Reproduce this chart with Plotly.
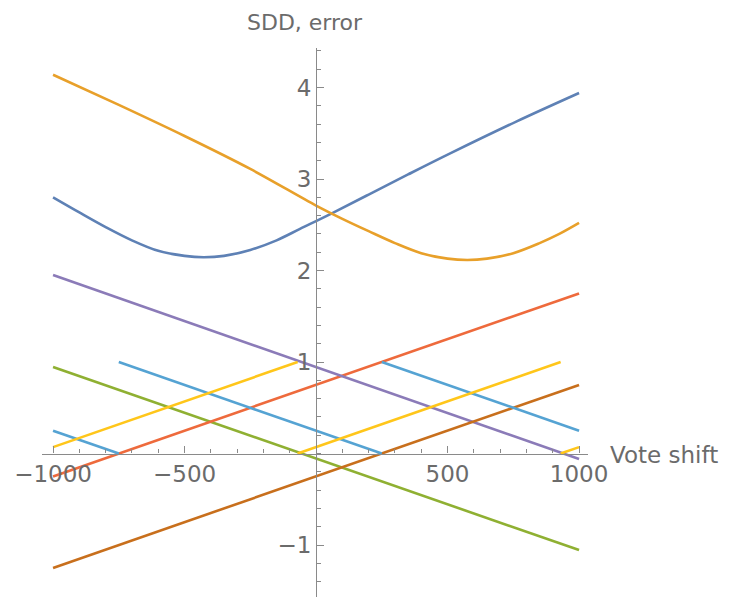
import plotly.graph_objects as go

# values
blue_x = [-1000, -900, -800, -700, -600, -500, -428, -350, -250, -150, -61, 60, 200, 350, 510, 763, 1000]
blue_y = [2.80, 2.635, 2.475, 2.33, 2.215, 2.16, 2.145, 2.16, 2.225, 2.33, 2.455, 2.625, 2.83, 3.05, 3.28, 3.63, 3.94]

orange_x = [-1000, -750, -500, -250, 0, 100, 200, 300, 400, 500, 575, 650, 750, 850, 925, 1000]
orange_y = [4.14, 3.81, 3.47, 3.11, 2.71, 2.565, 2.43, 2.30, 2.19, 2.13, 2.115, 2.13, 2.19, 2.30, 2.40, 2.52]

green_x = [-1000, 1000]
green_y = [0.945, -1.055]

red_x = [-1000, 1000]
red_y = [-0.25, 1.75]

purple_x = [-1000, 1000]
purple_y = [1.95, -0.06]

brown_x = [-1000, 1000]
brown_y = [-1.25, 0.75]

cyan_x = [-1000, -750, None, -750, 250, None, 250, 1000]
cyan_y = [0.25, 0.0, None, 1.0, 0.0, None, 1.0, 0.25]

yellow_x = [-1000, -70, None, -70, 930, None, 930, 1000]
yellow_y = [0.07, 1.0, None, 0.0, 1.0, None, 0.0, 0.07]

x_ticks = [-1000, -500, 500, 1000]
y_ticks = [-1, 1, 2, 3, 4]

series = [
    (blue_x, blue_y, "#5E81B5", "spline"),
    (orange_x, orange_y, "#E8A02A", "spline"),
    (green_x, green_y, "#8FB032", "linear"),
    (red_x, red_y, "#EE6A3C", "linear"),
    (purple_x, purple_y, "#8B7BB8", "linear"),
    (brown_x, brown_y, "#C86F1C", "linear"),
    (cyan_x, cyan_y, "#55A3D3", "linear"),
    (yellow_x, yellow_y, "#FFC61A", "linear"),
]

fig = go.Figure()
for xs, ys, col, shape in series:
    fig.add_trace(go.Scatter(x=xs, y=ys, mode="lines",
                             line=dict(color=col, width=2.6, shape=shape, smoothing=1.0),
                             showlegend=False, hoverinfo="skip"))

x_range = [-1042, 1034]
y_range = [-1.568, 4.432]
axis_col = "#8a8a8a"
font = dict(family="DejaVu Sans", size=23, color="#6b6b6b")

# page body adds an 8px offset, so the figure is a bit smaller than the window
fig.update_layout(
    width=724, height=590,
    margin=dict(l=34, r=144, t=40, b=1),
    paper_bgcolor="white", plot_bgcolor="white",
    font=font,
    xaxis=dict(range=x_range, anchor="free", automargin=False,
               position=(0 - y_range[0]) / (y_range[1] - y_range[0]),
               showline=True, linecolor=axis_col, linewidth=1.3,
               showgrid=False, zeroline=False,
               tickmode="array", tickvals=x_ticks,
               ticks="inside", ticklen=7, tickcolor=axis_col, tickwidth=1.3,
               minor=dict(ticks="inside", ticklen=4, dtick=100, tickcolor=axis_col,
                          tickwidth=1, showgrid=False),
               tickfont=font),
    yaxis=dict(range=y_range, anchor="free", automargin=False,
               position=(0 - x_range[0]) / (x_range[1] - x_range[0]),
               showline=True, linecolor=axis_col, linewidth=1.3,
               showgrid=False, zeroline=False,
               tickmode="array", tickvals=y_ticks,
               ticks="inside", ticklen=7, tickcolor=axis_col, tickwidth=1.3,
               minor=dict(ticks="inside", ticklen=4, dtick=0.2, tickcolor=axis_col,
                          tickwidth=1, showgrid=False),
               tickfont=font),
    annotations=[
        dict(text="SDD, error", xref="x", x=-266, xanchor="left",
             yref="paper", y=1.046, yanchor="middle", showarrow=False,
             borderpad=0, font=dict(family="DejaVu Sans", size=22, color="#6b6b6b")),
        dict(text="Vote shift", xref="paper", x=1.0366, xanchor="left",
             yref="y", y=0, yanchor="middle", yshift=-1, showarrow=False, font=font),
    ],
)

fig.write_html("out.html")
